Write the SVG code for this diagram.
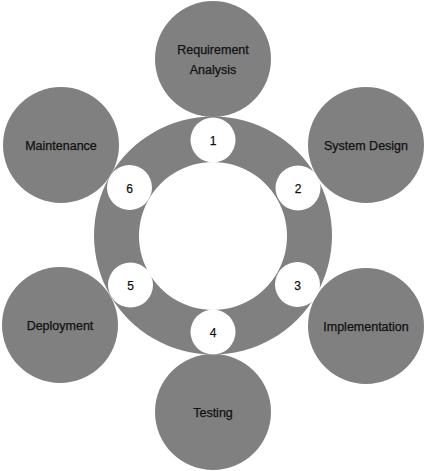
<svg xmlns="http://www.w3.org/2000/svg" width="425" height="471" viewBox="0 0 425 471">
<style>
.big{fill:#808080}
.small{fill:#ffffff}
text{font-family:"Liberation Sans",Arial,sans-serif;font-size:12.5px;fill:#111111;stroke:#111111;stroke-width:0.25px;text-anchor:middle}
.num{font-size:12px}
</style>
<rect width="425" height="471" fill="#ffffff"/>
<g id="ring">
<path d="M213 116.5 a119 119 0 1 0 0.01 0 Z M213 162 a74 74 0 1 1 -0.01 0 Z" fill="#808080" fill-rule="evenodd"/>
</g>
<g id="connectors"></g>
<g id="node-requirement"><circle class="big" cx="213" cy="59" r="58"/><text x="213" y="54">Requirement</text><text x="213" y="74">Analysis</text></g>
<g id="node-system-design"><circle class="big" cx="366" cy="145" r="58"/><text x="366" y="150">System Design</text></g>
<g id="node-implementation"><circle class="big" cx="366" cy="326" r="58"/><text x="366" y="330.5">Implementation</text></g>
<g id="node-testing"><circle class="big" cx="213" cy="412" r="58"/><text x="213" y="416.5">Testing</text></g>
<g id="node-deployment"><circle class="big" cx="60" cy="325" r="58"/><text x="60" y="329.5">Deployment</text></g>
<g id="node-maintenance"><circle class="big" cx="61" cy="145" r="58"/><text x="61" y="149.5">Maintenance</text></g>
<g id="step-1"><circle class="small" cx="213" cy="140" r="22.5"/><text class="num" x="213" y="145">1</text></g>
<g id="step-2"><circle class="small" cx="298" cy="188" r="22.5"/><text class="num" x="298" y="193">2</text></g>
<g id="step-3"><circle class="small" cx="297.5" cy="284.5" r="22.5"/><text class="num" x="297.5" y="289.5">3</text></g>
<g id="step-4"><circle class="small" cx="213" cy="332" r="22.5"/><text class="num" x="213" y="337">4</text></g>
<g id="step-5"><circle class="small" cx="130.5" cy="285" r="22.5"/><text class="num" x="130.5" y="290">5</text></g>
<g id="step-6"><circle class="small" cx="129.5" cy="187.5" r="22.5"/><text class="num" x="129.5" y="192.5">6</text></g>
</svg>
